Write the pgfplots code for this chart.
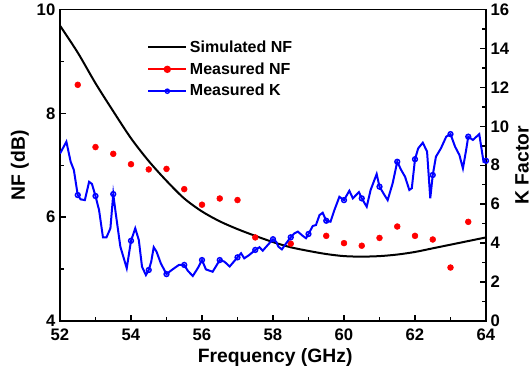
\documentclass[border=0pt]{standalone}
\usepackage{fontspec}
\setmainfont{Liberation Sans}
\usepackage{pgfplots}
\pgfplotsset{compat=1.18}
\usepackage{pgfplotstable}

\pgfplotstableread{
f nf
52 9.69
52.5 9.17
53 8.58
53.5 8.04
54 7.52
54.5 7.08
55 6.70
55.5 6.36
56 6.11
56.5 5.92
57 5.77
57.5 5.64
58 5.52
58.5 5.42
59 5.35
59.5 5.29
60 5.25
60.5 5.24
61 5.25
61.5 5.28
62 5.33
62.5 5.40
63 5.47
63.5 5.54
64 5.61
}\simnf

\pgfplotstableread{
f nf
52.5 8.55
53 7.35
53.5 7.22
54 7.02
54.5 6.92
55 6.93
55.5 6.54
56 6.24
56.5 6.36
57 6.33
57.5 5.61
58.5 5.49
59.5 5.64
60 5.50
60.5 5.45
61 5.60
61.5 5.82
62 5.64
62.5 5.57
63 5.03
63.5 5.91
}\measnf

\pgfplotstableread{
f k
52.00 8.60
52.18 9.21
52.30 8.18
52.39 7.76
52.50 6.47
52.58 6.25
52.70 6.21
52.82 7.15
52.90 7.04
53.00 6.42
53.10 5.70
53.21 4.30
53.31 4.30
53.42 4.76
53.50 6.52
53.57 5.53
53.70 3.82
53.88 2.71
54.00 4.12
54.12 4.76
54.22 4.16
54.31 2.79
54.42 2.36
54.50 2.62
54.57 3.05
54.64 3.79
54.72 3.56
54.84 2.96
55.00 2.41
55.17 2.65
55.35 2.88
55.50 2.88
55.60 2.58
55.74 2.31
55.88 2.71
56.00 3.13
56.11 2.65
56.30 2.53
56.50 3.13
56.63 3.05
56.78 2.80
57.00 3.27
57.10 3.48
57.19 3.22
57.33 3.39
57.50 3.65
57.62 3.79
57.71 3.61
57.85 3.90
58.00 4.20
58.09 4.07
58.15 3.82
58.25 3.68
58.37 3.99
58.50 4.30
58.60 4.50
58.70 4.59
58.84 4.37
58.93 4.25
59.00 4.47
59.12 4.88
59.21 4.93
59.31 5.44
59.40 5.56
59.50 5.15
59.62 5.10
59.73 5.70
59.87 6.38
60.00 6.21
60.15 6.69
60.25 6.30
60.34 6.47
60.42 6.62
60.50 6.30
60.64 5.87
60.75 6.73
60.92 7.55
61.00 6.90
61.14 6.47
61.23 6.21
61.37 7.07
61.50 8.18
61.61 7.76
61.72 7.41
61.84 6.73
61.91 6.82
62.00 8.31
62.09 8.87
62.22 9.16
62.34 8.70
62.43 6.30
62.50 7.50
62.59 8.44
62.73 8.87
62.88 9.47
63.00 9.60
63.13 8.95
63.25 8.53
63.35 7.84
63.44 8.78
63.50 9.47
63.63 9.30
63.81 9.60
63.93 8.18
64.00 8.23
}\meask

\pgfplotstableread{
f k
52.50 6.47
53.00 6.42
53.50 6.52
54.00 4.12
54.50 2.62
55.00 2.41
55.50 2.88
56.00 3.13
56.50 3.13
57.00 3.27
57.50 3.65
58.00 4.20
58.50 4.30
59.00 4.47
59.50 5.15
60.00 6.21
60.50 6.30
61.00 6.90
61.50 8.18
62.00 8.31
62.50 7.50
63.00 9.60
63.50 9.47
64.00 8.23
}\measkmarks

\pgfplotsset{
  myaxis/.style={
    width=319.5pt, height=233.6pt, scale only axis,
    xmin=52, xmax=64,
    axis line style={line width=1.3pt},
    every tick/.style={black, line width=1.1pt},
    major tick length=4.5pt, minor tick length=2.8pt,
    ticklabel style={font=\bfseries\fontsize{12.5}{15}\selectfont},
    xticklabel style={yshift=-2.5pt},
    /pgf/number format/assume math mode=true,
  }
}

\begin{document}
\begin{tikzpicture}
\begin{axis}[myaxis,
  ymin=4, ymax=10,
  xtick={52,54,...,64}, ytick={4,6,8,10},
  minor x tick num=1, minor y tick num=1,
  xtick pos=bottom, ytick pos=left,
  xlabel={Frequency (GHz)}, ylabel={NF (dB)},
  every axis x label/.style={at={(axis description cs:0.505,-0.118)}, anchor=center, font=\bfseries\fontsize{14.5}{17}\selectfont},
  every axis y label/.style={at={(axis description cs:-0.094,0.5)}, rotate=90, anchor=center, font=\bfseries\fontsize{14.5}{17}\selectfont},
]
\addplot[black, line width=1.5pt, smooth] table[x=f, y=nf] {\simnf};
\addplot[only marks, red, mark=*, mark size=2.2pt] table[x=f, y=nf] {\measnf};
\end{axis}
\begin{axis}[myaxis,
  ymin=0, ymax=16,
  ytick={0,2,...,16}, minor y tick num=1,
  axis x line=none, axis y line*=right,
  ylabel={K Factor},
  every axis y label/.style={at={(axis description cs:1.0845,0.5)}, rotate=90, anchor=center, font=\bfseries\fontsize{14.5}{17}\selectfont},
  legend image code/.code={\draw[mark repeat=2,mark phase=2,#1] plot coordinates {(0cm,0cm) (0.5cm,0cm) (1cm,0cm)};},
  legend style={draw=none, fill=none, at={(0.195,0.918)}, anchor=north west,
    font=\bfseries\fontsize{12}{14}\selectfont, row sep=2.2pt},
  legend cell align=left,
]
\addlegendimage{black, line width=1.5pt}
\addlegendentry{Simulated NF}
\addlegendimage{red, line width=1.5pt, mark=*, mark size=2pt}
\addlegendentry{Measured NF}
\addlegendimage{blue, line width=1.5pt, mark=o, mark size=1.6pt, mark options={line width=1pt}}
\addlegendentry{Measured K}
\addplot[blue, line width=1.5pt, forget plot] table[x=f, y=k] {\meask};
\addplot[only marks, blue, mark=o, mark size=1.8pt, mark options={line width=1.1pt, fill=blue!30}, forget plot] table[x=f, y=k] {\measkmarks};
\end{axis}
\pgfresetboundingbox
\useasboundingbox (-45pt,-36.75pt) rectangle (354pt,240.75pt);
\end{tikzpicture}
\end{document}
